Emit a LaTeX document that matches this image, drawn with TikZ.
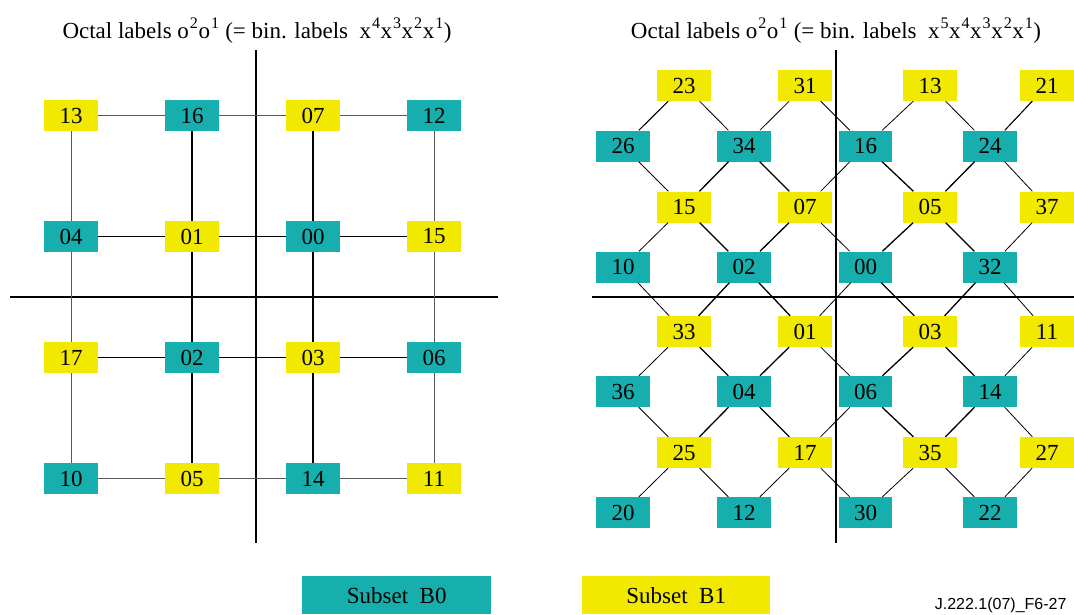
\documentclass[tikz,border=0pt]{standalone}
\usepackage{fontspec}
\setmainfont{Liberation Serif}
\newfontfamily\figsans{Liberation Sans}
\usepackage{xcolor}
\usetikzlibrary{positioning}

\definecolor{subsetteal}{RGB}{23,175,173}
\definecolor{subsetyellow}{RGB}{241,233,0}

\newcommand{\sps}[1]{\kern1pt\textsuperscript{#1}}

\tikzset{
  pt/.style={inner sep=0pt, minimum width=53.5pt, minimum height=31pt, font=\fontsize{23}{26}\selectfont},
  sb0/.style={pt, fill=subsetteal},
  sb1/.style={pt, fill=subsetyellow},
  axis/.style={line width=2pt, black},
  outerlink/.style={line width=1pt, black!65},
  innerlink/.style={line width=1.6pt, black},
  thinlink/.style={line width=0.8pt, black},
  thicklink/.style={line width=1.3pt, black}
}

\begin{document}
\begin{tikzpicture}[x=1pt, y=-1pt]
  \useasboundingbox (0,0) rectangle (1074,614);

  % Titles
  \node[anchor=base, font=\fontsize{23}{26}\selectfont] (ltitle) at (257,38)
    {Octal labels o\sps{2}o\sps{1} (= bin. labels\ \ x\sps{4}x\sps{3}x\sps{2}x\sps{1})};
  \node[anchor=base, font=\fontsize{23}{26}\selectfont] (rtitle) at (836,38)
    {Octal labels o\sps{2}o\sps{1} (= bin. labels\ \ x\sps{5}x\sps{4}x\sps{3}x\sps{2}x\sps{1})};

  % Axes
  \draw[axis] (256,50) -- (256,543);
  \draw[axis] (10,297) -- (498,297);
  \draw[axis] (835.5,50) -- (835.5,543);
  \draw[axis] (592,297) -- (1074,297);

  % Left: 4x4 grid
  \node[sb1] (l13) at (71,115.5) {13};
  \node[sb0] (l16) at (192,115.5) {16};
  \node[sb1] (l07) at (313,115.5) {07};
  \node[sb0] (l12) at (434,115.5) {12};
  \node[sb0] (l04) at (71,236.5) {04};
  \node[sb1] (l01) at (192,236.5) {01};
  \node[sb0] (l00) at (313,236.5) {00};
  \node[sb1] (l15) at (434,236.5) {15};
  \node[sb1] (l17) at (71,357.5) {17};
  \node[sb0] (l02) at (192,357.5) {02};
  \node[sb1] (l03) at (313,357.5) {03};
  \node[sb0] (l06) at (434,357.5) {06};
  \node[sb0] (l10) at (71,478.5) {10};
  \node[sb1] (l05) at (192,478.5) {05};
  \node[sb0] (l14) at (313,478.5) {14};
  \node[sb1] (l11) at (434,478.5) {11};

  \draw[outerlink] (l13) -- (l16) -- (l07) -- (l12);
  \draw[outerlink] (l10) -- (l05) -- (l14) -- (l11);
  \draw[outerlink] (l13) -- (l04) -- (l17) -- (l10);
  \draw[outerlink] (l12) -- (l15) -- (l06) -- (l11);
  \draw[innerlink] (l04) -- (l01) -- (l00) -- (l15);
  \draw[innerlink] (l17) -- (l02) -- (l03) -- (l06);
  \draw[innerlink] (l16) -- (l01) -- (l02) -- (l05);
  \draw[innerlink] (l07) -- (l00) -- (l03) -- (l14);

  % Right: diamond lattice
  \node[sb1] (r23) at (684,85.5) {23};
  \node[sb1] (r31) at (805,85.5) {31};
  \node[sb1] (r13) at (930,85.5) {13};
  \node[sb1] (r21) at (1047,85.5) {21};
  \node[sb0] (r26) at (623,146) {26};
  \node[sb0] (r34) at (744,146) {34};
  \node[sb0] (r16) at (865.5,146) {16};
  \node[sb0] (r24) at (990,146) {24};
  \node[sb1] (r15) at (684,207) {15};
  \node[sb1] (r07) at (805,207) {07};
  \node[sb1] (r05) at (930,207) {05};
  \node[sb1] (r37) at (1047,207) {37};
  \node[sb0] (r10) at (623,267) {10};
  \node[sb0] (r02) at (744,267) {02};
  \node[sb0] (r00) at (865.5,267) {00};
  \node[sb0] (r32) at (990,267) {32};
  \node[sb1] (r33) at (684,331.5) {33};
  \node[sb1] (r01) at (805,331.5) {01};
  \node[sb1] (r03) at (930,331.5) {03};
  \node[sb1] (r11) at (1047,331.5) {11};
  \node[sb0] (r36) at (623,391.5) {36};
  \node[sb0] (r04) at (744,391.5) {04};
  \node[sb0] (r06) at (865.5,391.5) {06};
  \node[sb0] (r14) at (990,391.5) {14};
  \node[sb1] (r25) at (684,452.5) {25};
  \node[sb1] (r17) at (805,452.5) {17};
  \node[sb1] (r35) at (930,452.5) {35};
  \node[sb1] (r27) at (1047,452.5) {27};
  \node[sb0] (r20) at (623,512.5) {20};
  \node[sb0] (r12) at (744,512.5) {12};
  \node[sb0] (r30) at (865.5,512.5) {30};
  \node[sb0] (r22) at (990,512.5) {22};

  % outer ring and axis crossings
  \draw[thinlink] (r26) -- (r23) -- (r34) -- (r31) -- (r16) -- (r13) -- (r24) -- (r21);
  \draw[thinlink] (r20) -- (r25) -- (r12) -- (r17) -- (r30) -- (r35) -- (r22) -- (r27);
  \draw[thinlink] (r23) -- (r26) -- (r15) -- (r10) -- (r33) -- (r36) -- (r25);
  \draw[thinlink] (r21) -- (r24) -- (r37) -- (r32) -- (r11) -- (r14) -- (r27);
  \draw[thinlink] (r16) -- (r07) -- (r00) -- (r01) -- (r06) -- (r17);
  % inner links
  \draw[thicklink] (r15) -- (r34) -- (r07) -- (r02) -- (r15);
  \draw[thicklink] (r16) -- (r05) -- (r24);
  \draw[thicklink] (r00) -- (r05) -- (r32) -- (r03) -- (r00);
  \draw[thicklink] (r33) -- (r02) -- (r01) -- (r04) -- (r33);
  \draw[thicklink] (r06) -- (r03) -- (r14) -- (r35) -- (r06);
  \draw[thicklink] (r25) -- (r04) -- (r17);

  % Legend
  \node[fill=subsetteal, inner sep=0pt, minimum width=189pt, minimum height=38pt, anchor=north west] (legb0) at (302,576) {};
  \node[fill=subsetyellow, inner sep=0pt, minimum width=188pt, minimum height=38pt, anchor=north west] (legb1) at (582,576) {};
  \node[anchor=base, font=\fontsize{23}{26}\selectfont] at (legb0.center |- 0,603) {Subset\ \ B0};
  \node[anchor=base, font=\fontsize{23}{26}\selectfont] at (legb1.center |- 0,603) {Subset\ \ B1};
  \node[anchor=base east, font=\figsans\fontsize{16}{18}\selectfont] (figid) at (1070,609) {J.222.1(07)\_F6-27};
\end{tikzpicture}
\end{document}
